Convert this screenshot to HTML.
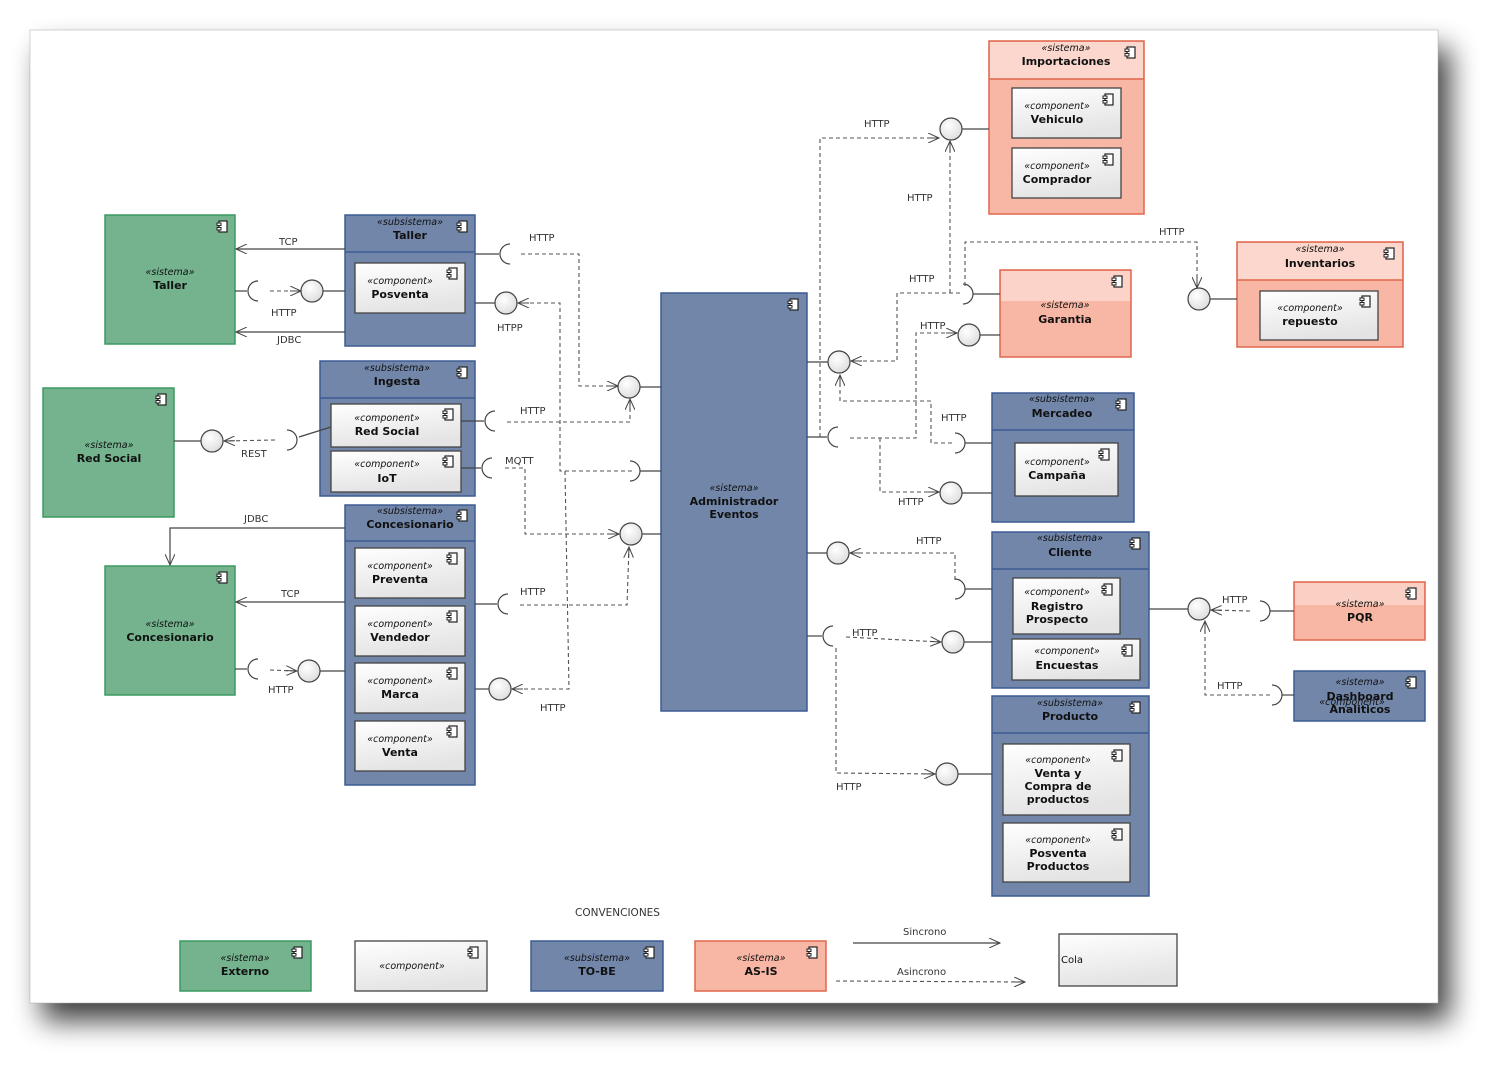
<!DOCTYPE html>
<html><head><meta charset="utf-8"><style>
html,body{margin:0;padding:0;background:#fff;width:1500px;height:1065px;overflow:hidden}
text{font-family:"DejaVu Sans","Liberation Sans",sans-serif;fill:#111}
.st{font-style:italic;font-size:9.5px;text-anchor:middle}
.nm{font-weight:bold;font-size:11px;text-anchor:middle}
.lb{font-size:10px;fill:#333}
.g{fill:#74b38e;stroke:#3d9a60;stroke-width:1.5}
.b{fill:#7186a8;stroke:#3d5c94;stroke-width:1.5}
.s{fill:#f8b6a4;stroke:#e0664c;stroke-width:1.5}
.sh{fill:#fbd7cd}
.c{fill:url(#cg);stroke:#444;stroke-width:1.3}
.ln{stroke:#444;stroke-width:1.2;fill:none}
.ds{stroke:#555;stroke-width:1.1;fill:none;stroke-dasharray:4 3}
.ci{fill:url(#og);stroke:#444;stroke-width:1.2}
.sk{stroke:#444;stroke-width:1.2;fill:none}
</style></head><body>
<svg width="1500" height="1065" viewBox="0 0 1500 1065" xmlns="http://www.w3.org/2000/svg">
<defs>
<linearGradient id="cg" x1="0" y1="0" x2="0.3" y2="1"><stop offset="0" stop-color="#fff"/><stop offset="1" stop-color="#e4e4e4"/></linearGradient>
<radialGradient id="og" cx="0.4" cy="0.35" r="0.7"><stop offset="0" stop-color="#fff"/><stop offset="1" stop-color="#dcdcdc"/></radialGradient>
<filter id="shd" x="-5%" y="-5%" width="115%" height="120%"><feGaussianBlur in="SourceAlpha" stdDeviation="14"/><feOffset dx="12" dy="18"/><feComponentTransfer><feFuncA type="linear" slope="0.75"/></feComponentTransfer><feMerge><feMergeNode/><feMergeNode in="SourceGraphic"/></feMerge></filter>
<marker id="a" markerWidth="12" markerHeight="10" refX="11" refY="5" orient="auto" markerUnits="userSpaceOnUse"><path d="M0,0 L11,5 L0,10 M0,5 L11,5" fill="none" stroke="#444" stroke-width="1"/></marker>
<g id="ic"><rect x="2" y="0" width="8" height="11" fill="#fff" stroke="#222" stroke-width="1.2"/><rect x="0" y="2" width="4" height="2.5" fill="#fff" stroke="#222" stroke-width="1"/><rect x="0" y="6.5" width="4" height="2.5" fill="#fff" stroke="#222" stroke-width="1"/></g>
</defs>
<rect x="30" y="30" width="1408" height="973" fill="#fff" filter="url(#shd)"/>
<rect x="30" y="30" width="1408" height="973" fill="#fff" stroke="#aaa" stroke-width="0.5"/>

<!-- Green Taller -->
<rect class="g" x="105" y="215" width="130" height="129"/><use href="#ic" x="217" y="221"/>
<text class="st" x="170" y="275">«sistema»</text><text class="nm" x="170" y="289">Taller</text>
<!-- Sub Taller -->
<rect class="b" x="345" y="215" width="130" height="131"/><line x1="345" y1="252" x2="475" y2="252" stroke="#3d5c94" stroke-width="1.5"/><use href="#ic" x="457" y="221"/>
<text class="st" x="410" y="225">«subsistema»</text><text class="nm" x="410" y="239">Taller</text>
<rect class="c" x="355" y="263" width="110" height="50"/><use href="#ic" x="447" y="268"/>
<text class="st" x="400" y="284">«component»</text><text class="nm" x="400" y="298">Posventa</text>
<!-- Red Social green -->
<rect class="g" x="43" y="388" width="131" height="129"/><use href="#ic" x="156" y="394"/>
<text class="st" x="109" y="448">«sistema»</text><text class="nm" x="109" y="462">Red Social</text>
<!-- Ingesta -->
<rect class="b" x="320" y="361" width="155" height="135"/><line x1="320" y1="398" x2="475" y2="398" stroke="#3d5c94" stroke-width="1.5"/><use href="#ic" x="457" y="367"/>
<text class="st" x="397" y="371">«subsistema»</text><text class="nm" x="397" y="385">Ingesta</text>
<rect class="c" x="331" y="404" width="130" height="43"/><use href="#ic" x="443" y="409"/>
<text class="st" x="387" y="421">«component»</text><text class="nm" x="387" y="435">Red Social</text>
<rect class="c" x="331" y="451" width="130" height="41"/><use href="#ic" x="443" y="456"/>
<text class="st" x="387" y="467">«component»</text><text class="nm" x="387" y="482">IoT</text>
<!-- Concesionario sub -->
<rect class="b" x="345" y="505" width="130" height="280"/><line x1="345" y1="541" x2="475" y2="541" stroke="#3d5c94" stroke-width="1.5"/><use href="#ic" x="457" y="510"/>
<text class="st" x="410" y="514">«subsistema»</text><text class="nm" x="410" y="528">Concesionario</text>
<rect class="c" x="355" y="548" width="110" height="50"/><use href="#ic" x="447" y="553"/>
<text class="st" x="400" y="569">«component»</text><text class="nm" x="400" y="583">Preventa</text>
<rect class="c" x="355" y="606" width="110" height="50"/><use href="#ic" x="447" y="611"/>
<text class="st" x="400" y="627">«component»</text><text class="nm" x="400" y="641">Vendedor</text>
<rect class="c" x="355" y="663" width="110" height="50"/><use href="#ic" x="447" y="668"/>
<text class="st" x="400" y="684">«component»</text><text class="nm" x="400" y="698">Marca</text>
<rect class="c" x="355" y="721" width="110" height="50"/><use href="#ic" x="447" y="726"/>
<text class="st" x="400" y="742">«component»</text><text class="nm" x="400" y="756">Venta</text>
<!-- Green Concesionario -->
<rect class="g" x="105" y="566" width="130" height="129"/><use href="#ic" x="217" y="572"/>
<text class="st" x="170" y="627">«sistema»</text><text class="nm" x="170" y="641">Concesionario</text>
<!-- Admin -->
<rect class="b" x="661" y="293" width="146" height="418"/><use href="#ic" x="788" y="299"/>
<text class="st" x="734" y="491">«sistema»</text><text class="nm" x="734" y="505">Administrador</text><text class="nm" x="734" y="518">Eventos</text>
<!-- Importaciones -->
<rect class="s" x="989" y="41" width="155" height="173"/><rect class="sh" x="990" y="42" width="153" height="37"/><line x1="989" y1="79" x2="1144" y2="79" stroke="#e0664c" stroke-width="1.5"/><use href="#ic" x="1125" y="47"/>
<text class="st" x="1066" y="51">«sistema»</text><text class="nm" x="1066" y="65">Importaciones</text>
<rect class="c" x="1012" y="88" width="109" height="50"/><use href="#ic" x="1103" y="94"/>
<text class="st" x="1057" y="109">«component»</text><text class="nm" x="1057" y="123">Vehiculo</text>
<rect class="c" x="1012" y="148" width="109" height="50"/><use href="#ic" x="1103" y="154"/>
<text class="st" x="1057" y="169">«component»</text><text class="nm" x="1057" y="183">Comprador</text>
<!-- Garantia -->
<rect class="s" x="1000" y="270" width="131" height="87"/><rect x="1001" y="271" width="129" height="30" fill="#fbd3c8"/><use href="#ic" x="1112" y="276"/>
<text class="st" x="1065" y="308">«sistema»</text><text class="nm" x="1065" y="323">Garantia</text>
<!-- Inventarios -->
<rect class="s" x="1237" y="242" width="166" height="105"/><rect class="sh" x="1238" y="243" width="164" height="37"/><line x1="1237" y1="280" x2="1403" y2="280" stroke="#e0664c" stroke-width="1.5"/><use href="#ic" x="1384" y="248"/>
<text class="st" x="1320" y="252">«sistema»</text><text class="nm" x="1320" y="267">Inventarios</text>
<rect class="c" x="1260" y="291" width="118" height="49"/><use href="#ic" x="1360" y="296"/>
<text class="st" x="1310" y="311">«component»</text><text class="nm" x="1310" y="325">repuesto</text>
<!-- Mercadeo -->
<rect class="b" x="992" y="393" width="142" height="129"/><line x1="992" y1="430" x2="1134" y2="430" stroke="#3d5c94" stroke-width="1.5"/><use href="#ic" x="1116" y="399"/>
<text class="st" x="1062" y="402">«subsistema»</text><text class="nm" x="1062" y="417">Mercadeo</text>
<rect class="c" x="1015" y="443" width="103" height="53"/><use href="#ic" x="1099" y="449"/>
<text class="st" x="1057" y="465">«component»</text><text class="nm" x="1057" y="479">Campaña</text>
<!-- Cliente -->
<rect class="b" x="992" y="532" width="157" height="156"/><line x1="992" y1="569" x2="1149" y2="569" stroke="#3d5c94" stroke-width="1.5"/><use href="#ic" x="1130" y="538"/>
<text class="st" x="1070" y="541">«subsistema»</text><text class="nm" x="1070" y="556">Cliente</text>
<rect class="c" x="1013" y="578" width="107" height="56"/><use href="#ic" x="1102" y="584"/>
<text class="st" x="1057" y="595">«component»</text><text class="nm" x="1057" y="610">Registro</text><text class="nm" x="1057" y="623">Prospecto</text>
<rect class="c" x="1012" y="639" width="128" height="41"/><use href="#ic" x="1122" y="645"/>
<text class="st" x="1067" y="654">«component»</text><text class="nm" x="1067" y="669">Encuestas</text>
<!-- Producto -->
<rect class="b" x="992" y="696" width="157" height="200"/><line x1="992" y1="733" x2="1149" y2="733" stroke="#3d5c94" stroke-width="1.5"/><use href="#ic" x="1130" y="702"/>
<text class="st" x="1070" y="706">«subsistema»</text><text class="nm" x="1070" y="720">Producto</text>
<rect class="c" x="1003" y="744" width="127" height="71"/><use href="#ic" x="1112" y="750"/>
<text class="st" x="1058" y="763">«component»</text><text class="nm" x="1058" y="777">Venta y</text><text class="nm" x="1058" y="790">Compra de</text><text class="nm" x="1058" y="803">productos</text>
<rect class="c" x="1003" y="823" width="127" height="59"/><use href="#ic" x="1112" y="829"/>
<text class="st" x="1058" y="843">«component»</text><text class="nm" x="1058" y="857">Posventa</text><text class="nm" x="1058" y="870">Productos</text>
<!-- PQR -->
<rect class="s" x="1294" y="582" width="131" height="58"/><rect x="1295" y="583" width="129" height="22" fill="#fbd0c4"/><use href="#ic" x="1406" y="588"/>
<text class="st" x="1360" y="607">«sistema»</text><text class="nm" x="1360" y="621">PQR</text>
<!-- Dashboard -->
<rect class="b" x="1294" y="671" width="131" height="50"/><use href="#ic" x="1406" y="677"/>
<text class="st" x="1360" y="685">«sistema»</text><text class="nm" x="1360" y="700">Dashboard</text><text class="st" x="1352" y="705">«component»</text><text class="nm" x="1360" y="713">Analiticos</text>

<!-- ===== connectors left ===== -->
<line class="ln" x1="345" y1="249" x2="236" y2="249" marker-end="url(#a)"/><text class="lb" x="279" y="245">TCP</text>
<line class="ln" x1="345" y1="332" x2="236" y2="332" marker-end="url(#a)"/><text class="lb" x="277" y="343">JDBC</text>
<line class="ln" x1="235" y1="291" x2="247" y2="291"/><path class="sk" d="M258,281 A10,10 0 0 0 258,301"/>
<line class="ds" x1="270" y1="291" x2="301" y2="291" marker-end="url(#a)"/><circle class="ci" cx="312" cy="291" r="11"/><line class="ln" x1="323" y1="291" x2="345" y2="291"/><text class="lb" x="271" y="316">HTTP</text>

<line class="ln" x1="475" y1="254" x2="499" y2="254"/><path class="sk" d="M510,244 A10,10 0 0 0 510,264"/>
<path class="ds" d="M521,254 H579 V386 H618" marker-end="url(#a)"/><circle class="ci" cx="629" cy="387" r="11"/><line class="ln" x1="640" y1="387" x2="661" y2="387"/><text class="lb" x="529" y="241">HTTP</text>
<line class="ln" x1="475" y1="303" x2="495" y2="303"/><circle class="ci" cx="506" cy="303" r="11"/>
<path class="ds" d="M632,471 H560 V303 H518" marker-end="url(#a)"/><text class="lb" x="497" y="331">HTPP</text>
<path class="sk" d="M630,461 A10,10 0 0 1 630,481"/><line class="ln" x1="640" y1="471" x2="661" y2="471"/>

<line class="ln" x1="461" y1="421" x2="484" y2="421"/><path class="sk" d="M495,411 A10,10 0 0 0 495,431"/>
<path class="ds" d="M507,422 H630 V399" marker-end="url(#a)"/><text class="lb" x="520" y="414">HTTP</text>
<line class="ln" x1="461" y1="468" x2="481" y2="468"/><path class="sk" d="M492,458 A10,10 0 0 0 492,478"/>
<path class="ds" d="M505,468 H525 V534 H619" marker-end="url(#a)"/><circle class="ci" cx="631" cy="534" r="11"/><line class="ln" x1="642" y1="534" x2="661" y2="534"/><text class="lb" x="505" y="464">MQTT</text>
<line class="ln" x1="331" y1="427" x2="299" y2="437"/><path class="sk" d="M287,430 A10,10 0 0 1 287,450"/>
<line class="ds" x1="275" y1="440" x2="224" y2="441" marker-end="url(#a)"/><circle class="ci" cx="212" cy="441" r="11"/><line class="ln" x1="174" y1="441" x2="201" y2="441"/><text class="lb" x="241" y="457">REST</text>

<path class="ln" d="M345,528 H170 V565" marker-end="url(#a)"/><text class="lb" x="244" y="522">JDBC</text>
<line class="ln" x1="345" y1="602" x2="236" y2="602" marker-end="url(#a)"/><text class="lb" x="281" y="597">TCP</text>
<line class="ln" x1="235" y1="669" x2="247" y2="669"/><path class="sk" d="M258,659 A10,10 0 0 0 258,679"/>
<line class="ds" x1="270" y1="670" x2="297" y2="671" marker-end="url(#a)"/><circle class="ci" cx="309" cy="671" r="11"/><line class="ln" x1="320" y1="671" x2="345" y2="671"/><text class="lb" x="268" y="693">HTTP</text>
<line class="ln" x1="475" y1="604" x2="497" y2="604"/><path class="sk" d="M508,594 A10,10 0 0 0 508,614"/>
<path class="ds" d="M520,605 H627 L629,547" marker-end="url(#a)"/><text class="lb" x="520" y="595">HTTP</text>
<line class="ln" x1="475" y1="689" x2="489" y2="689"/><circle class="ci" cx="500" cy="689" r="11"/>
<path class="ds" d="M565,471 L569,689 H512" marker-end="url(#a)"/><text class="lb" x="540" y="711">HTTP</text>

<!-- ===== connectors right ===== -->
<line class="ln" x1="807" y1="362" x2="828" y2="362"/><circle class="ci" cx="839" cy="362" r="11"/>
<path class="ds" d="M960,293 H897 V361 H851" marker-end="url(#a)"/><text class="lb" x="909" y="282">HTTP</text>
<path class="sk" d="M963,284 A10,10 0 0 1 963,304"/><line class="ln" x1="973" y1="294" x2="1000" y2="294"/>
<path class="ds" d="M950,293 V141" marker-end="url(#a)"/><circle class="ci" cx="951" cy="129" r="11"/><line class="ln" x1="962" y1="129" x2="989" y2="129"/><text class="lb" x="907" y="201">HTTP</text>
<path class="ds" d="M965,286 V242 H1197 V288" marker-end="url(#a)"/><circle class="ci" cx="1199" cy="299" r="11"/><line class="ln" x1="1210" y1="299" x2="1237" y2="299"/><text class="lb" x="1159" y="235">HTTP</text>
<path class="ds" d="M952,443 H931 V401 H840 V375" marker-end="url(#a)"/><text class="lb" x="941" y="421">HTTP</text>
<path class="sk" d="M955,433 A10,10 0 0 1 955,453"/><line class="ln" x1="965" y1="443" x2="992" y2="443"/>
<line class="ln" x1="807" y1="437" x2="827" y2="437"/><path class="sk" d="M838,427 A10,10 0 0 0 838,447"/>
<path class="ds" d="M820,437 V138 H939" marker-end="url(#a)"/><text class="lb" x="864" y="127">HTTP</text>
<path class="ds" d="M850,438 H916 V333 H957" marker-end="url(#a)"/><circle class="ci" cx="969" cy="335" r="11"/><line class="ln" x1="980" y1="335" x2="1000" y2="335"/><text class="lb" x="920" y="329">HTTP</text>
<path class="ds" d="M880,438 V492 H939" marker-end="url(#a)"/><circle class="ci" cx="951" cy="493" r="11"/><line class="ln" x1="962" y1="493" x2="992" y2="493"/><text class="lb" x="898" y="505">HTTP</text>

<line class="ln" x1="807" y1="553" x2="827" y2="553"/><circle class="ci" cx="838" cy="553" r="11"/>
<path class="ds" d="M955,580 V553 H850" marker-end="url(#a)"/><text class="lb" x="916" y="544">HTTP</text>
<path class="sk" d="M955,579 A10,10 0 0 1 955,599"/><line class="ln" x1="965" y1="589" x2="992" y2="589"/>
<line class="ln" x1="807" y1="636" x2="822" y2="636"/><path class="sk" d="M833,626 A10,10 0 0 0 833,646"/>
<path class="ds" d="M846,637 L941,642" marker-end="url(#a)"/><circle class="ci" cx="953" cy="642" r="11"/><line class="ln" x1="964" y1="642" x2="992" y2="642"/><text class="lb" x="852" y="636">HTTP</text>
<path class="ds" d="M836,648 V773 L935,774" marker-end="url(#a)"/><circle class="ci" cx="947" cy="774" r="11"/><line class="ln" x1="958" y1="774" x2="992" y2="774"/><text class="lb" x="836" y="790">HTTP</text>

<line class="ln" x1="1149" y1="609" x2="1188" y2="609"/><circle class="ci" cx="1199" cy="609" r="11"/>
<line class="ds" x1="1250" y1="611" x2="1211" y2="610" marker-end="url(#a)"/><text class="lb" x="1222" y="603">HTTP</text>
<path class="sk" d="M1260,601 A10,10 0 0 1 1260,621"/><line class="ln" x1="1270" y1="611" x2="1294" y2="611"/>
<path class="ds" d="M1270,695 H1205 V621" marker-end="url(#a)"/><text class="lb" x="1217" y="689">HTTP</text>
<path class="sk" d="M1272,685 A10,10 0 0 1 1272,705"/><line class="ln" x1="1282" y1="695" x2="1294" y2="695"/>

<!-- ===== legend ===== -->
<text class="lb" x="575" y="916" style="font-size:10.5px">CONVENCIONES</text>
<rect class="g" x="180" y="941" width="131" height="50"/><use href="#ic" x="292" y="947"/>
<text class="st" x="245" y="961">«sistema»</text><text class="nm" x="245" y="975">Externo</text>
<rect class="c" x="355" y="941" width="132" height="50"/><use href="#ic" x="468" y="947"/>
<text class="st" x="412" y="969">«component»</text>
<rect class="b" x="531" y="941" width="132" height="50"/><use href="#ic" x="644" y="947"/>
<text class="st" x="597" y="961">«subsistema»</text><text class="nm" x="597" y="975">TO-BE</text>
<rect class="s" x="695" y="941" width="131" height="50"/><use href="#ic" x="807" y="947"/>
<text class="st" x="761" y="961">«sistema»</text><text class="nm" x="761" y="975">AS-IS</text>
<line class="ln" x1="853" y1="943" x2="1000" y2="943" marker-end="url(#a)"/><text class="lb" x="903" y="935">Sincrono</text>
<line class="ds" x1="836" y1="981" x2="1025" y2="982" marker-end="url(#a)"/><text class="lb" x="897" y="975">Asincrono</text>
<rect class="c" x="1059" y="934" width="118" height="52"/><text class="lb" x="1061" y="963" style="fill:#111">Cola</text>
</svg>
</body></html>
